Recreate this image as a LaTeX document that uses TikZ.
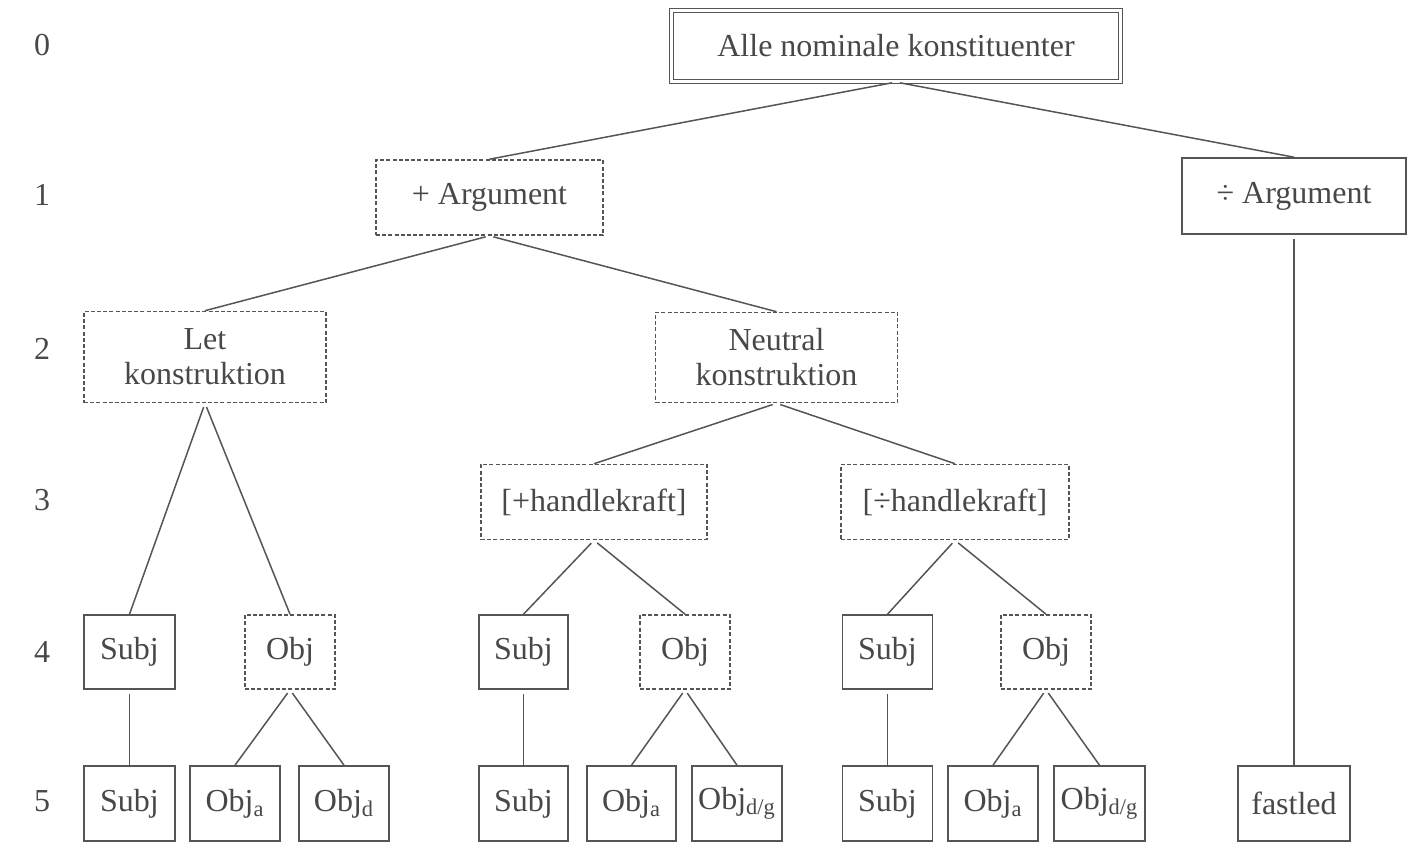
\documentclass[tikz,border=0pt]{standalone}
\usepackage{fontspec}
\setmainfont{Liberation Serif}
\definecolor{ink}{RGB}{72,72,72}
\definecolor{edge}{RGB}{85,85,85}
\begin{document}
\begin{tikzpicture}[x=0.5pt,y=-0.5pt,
  every node/.style={text=ink, font=\fontsize{16}{17.5}\selectfont, inner sep=0pt},
  solidbox/.style={draw=edge, line width=0.8pt, align=center},
  dashbox/.style={draw=edge, line width=0.8pt, dash pattern=on 2pt off 1.1pt, align=center},
  rootbox/.style={draw=edge, line width=0.65pt, double=white, double distance=1.4pt},
  link/.style={draw=edge, line width=0.75pt, shorten <=2pt},
  lvl/.style={text=ink},
  l4/.style={minimum height=37pt},
  l5/.style={solidbox, minimum height=37.5pt}
]
\useasboundingbox (0,0) rectangle (1414,845);

% level numbers
\node[lvl] (n0) at (42,45) {0};
\node[lvl] (n1) at (42,195) {1};
\node[lvl] (n2) at (42,349) {2};
\node[lvl] (n3) at (42,500) {3};
\node[lvl] (n4) at (42,652) {4};
\node[lvl] (n5) at (42,801) {5};

% level 0
\node[rootbox, minimum width=224.4pt, minimum height=35.4pt] (root) at (896,46) {Alle nominale konstituenter};

% level 1
\node[dashbox, minimum width=113.5pt, minimum height=37.5pt] (argp) at (489.5,197.5) {+ Argument};
\node[solidbox, minimum width=112pt, minimum height=38pt] (argm) at (1294,196) {÷ Argument};

% level 2
\node[dashbox, minimum width=121pt, minimum height=45.5pt] (let) at (205,357) {Let\\konstruktion};
\node[dashbox, minimum width=121pt, minimum height=45pt] (neut) at (776.5,357.5) {Neutral\\konstruktion};

% level 3
\node[dashbox, minimum width=113pt, minimum height=37.5pt] (hp) at (594,502) {[+handlekraft]};
\node[dashbox, minimum width=114pt, minimum height=37.5pt] (hm) at (955,502) {[÷handlekraft]};

% level 4
\node[solidbox, l4, minimum width=45.5pt] (s1) at (129.5,652) {Subj};
\node[dashbox, l4, minimum width=45pt] (o1) at (290,652) {Obj};
\node[solidbox, l4, minimum width=44.5pt] (s2) at (523.5,652) {Subj};
\node[dashbox, l4, minimum width=45pt] (o2) at (685,652) {Obj};
\node[solidbox, l4, minimum width=45pt] (s3) at (887.5,652) {Subj};
\node[dashbox, l4, minimum width=45pt] (o3) at (1046,652) {Obj};

% level 5
\node[l5, minimum width=45.5pt] (s1b) at (129.5,803.5) {Subj};
\node[l5, minimum width=45pt] (oa1) at (235,803.5) {Obj\textsubscript{a}};
\node[l5, minimum width=45pt] (od1) at (344,803.5) {Obj\textsubscript{d}};
\node[l5, minimum width=44.5pt] (s2b) at (523.5,803.5) {Subj};
\node[l5, minimum width=44.5pt] (oa2) at (631.5,803.5) {Obj\textsubscript{a}};
\node[l5, minimum width=45pt] (od2) at (737,803.5) {Obj\textsubscript{d/g}};
\node[l5, minimum width=45pt] (s3b) at (887.5,803.5) {Subj};
\node[l5, minimum width=45pt] (oa3) at (993,803.5) {Obj\textsubscript{a}};
\node[l5, minimum width=45.5pt] (od3) at (1099.5,803.5) {Obj\textsubscript{d/g}};
\node[l5, minimum width=56pt] (fast) at (1294,803.5) {fastled};

% connectors
\draw[link] (root.south) -- (argp.north);
\draw[link] (root.south) -- (argm.north);
\draw[link] (argp.south) -- (let.north);
\draw[link] (argp.south) -- (neut.north);
\draw[link] (argm.south) -- (fast.north);
\draw[link] (let.south) -- (s1.north);
\draw[link] (let.south) -- (o1.north);
\draw[link] (neut.south) -- (hp.north);
\draw[link] (neut.south) -- (hm.north);
\draw[link] (hp.south) -- (s2.north);
\draw[link] (hp.south) -- (o2.north);
\draw[link] (hm.south) -- (s3.north);
\draw[link] (hm.south) -- (o3.north);
\draw[link] (s1.south) -- (s1b.north);
\draw[link] (o1.south) -- (oa1.north);
\draw[link] (o1.south) -- (od1.north);
\draw[link] (s2.south) -- (s2b.north);
\draw[link] (o2.south) -- (oa2.north);
\draw[link] (o2.south) -- (od2.north);
\draw[link] (s3.south) -- (s3b.north);
\draw[link] (o3.south) -- (oa3.north);
\draw[link] (o3.south) -- (od3.north);
\end{tikzpicture}
\end{document}
